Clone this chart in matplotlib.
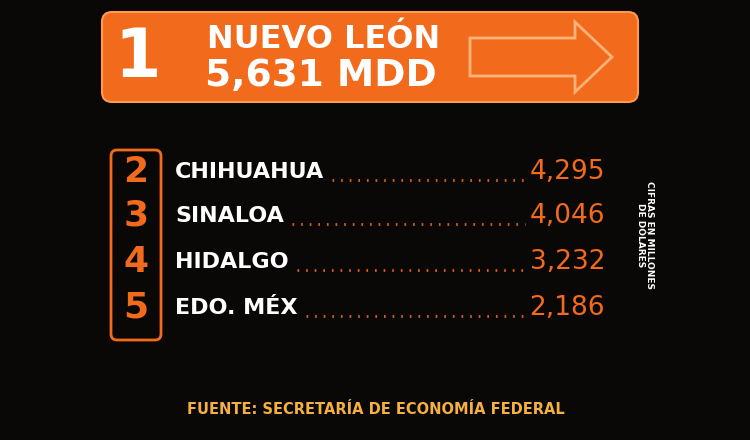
import matplotlib
matplotlib.use("Agg")
import matplotlib.pyplot as plt
from matplotlib.patches import FancyBboxPatch, Polygon

top_rank = "1"
top_state = "NUEVO LEÓN"
top_value = "5,631 MDD"
ranks = ["2", "3", "4", "5"]
states = ["CHIHUAHUA", "SINALOA", "HIDALGO", "EDO. MÉX"]
values = [4295, 4046, 3232, 2186]
note = "CIFRAS EN MILLONES\nDE DÓLARES"
source = "FUENTE: SECRETARÍA DE ECONOMÍA FEDERAL"

ORANGE = "#f26a1b"

fig = plt.figure(figsize=(7.5, 4.4), dpi=100, facecolor="#0a0806")
ax = fig.add_axes([0, 0, 1, 1])
ax.set_xlim(0, 750); ax.set_ylim(440, 0); ax.axis("off")
ax.set_facecolor("#0a0806")

ax.add_patch(FancyBboxPatch((102, 12), 536, 90, boxstyle="round,pad=0,rounding_size=10",
                            fc=ORANGE, ec="#ff9a50", lw=1.5))
ax.add_patch(Polygon([[470, 38], [575, 38], [575, 22], [612, 57], [575, 92], [575, 76], [470, 76]],
                     closed=True, fill=False, ec="#ffb27a", lw=2))
ax.text(138, 58, top_rank, color="white", fontsize=48, fontweight="bold", ha="center", va="center")
ax.text(207, 40, top_state, color="white", fontsize=23, fontweight="bold", va="center")
ax.text(205, 76, top_value, color="white", fontsize=27, fontweight="bold", va="center")

ax.add_patch(FancyBboxPatch((111, 150), 50, 190, boxstyle="round,pad=0,rounding_size=6",
                            fill=False, ec=ORANGE, lw=2))
ys = [172, 216, 262, 308]
for y, r, s, v in zip(ys, ranks, states, values):
    ax.text(136, y, r, color=ORANGE, fontsize=26, fontweight="bold", ha="center", va="center")
    t = ax.text(175, y, s, color="white", fontsize=16, fontweight="bold", va="center")
    ax.text(605, y, f"{v:,}", color=ORANGE, fontsize=19, ha="right", va="center")
    fig.canvas.draw()
    bb = t.get_window_extent()
    x0 = bb.x1 + 8
    ax.plot([x0, 525], [y + 8, y + 8], color=ORANGE, lw=2, ls=(0, (0.6, 2.5)), alpha=0.9)

ax.text(645, 235, note, color="white", fontsize=6.5, rotation=-90,
        ha="center", va="center", linespacing=1.1, fontweight="bold")
ax.text(376, 410, source, color="#f5b040", fontsize=10.5, fontweight="bold", ha="center", va="center")

fig.savefig("out.png", dpi=100, facecolor=fig.get_facecolor())
